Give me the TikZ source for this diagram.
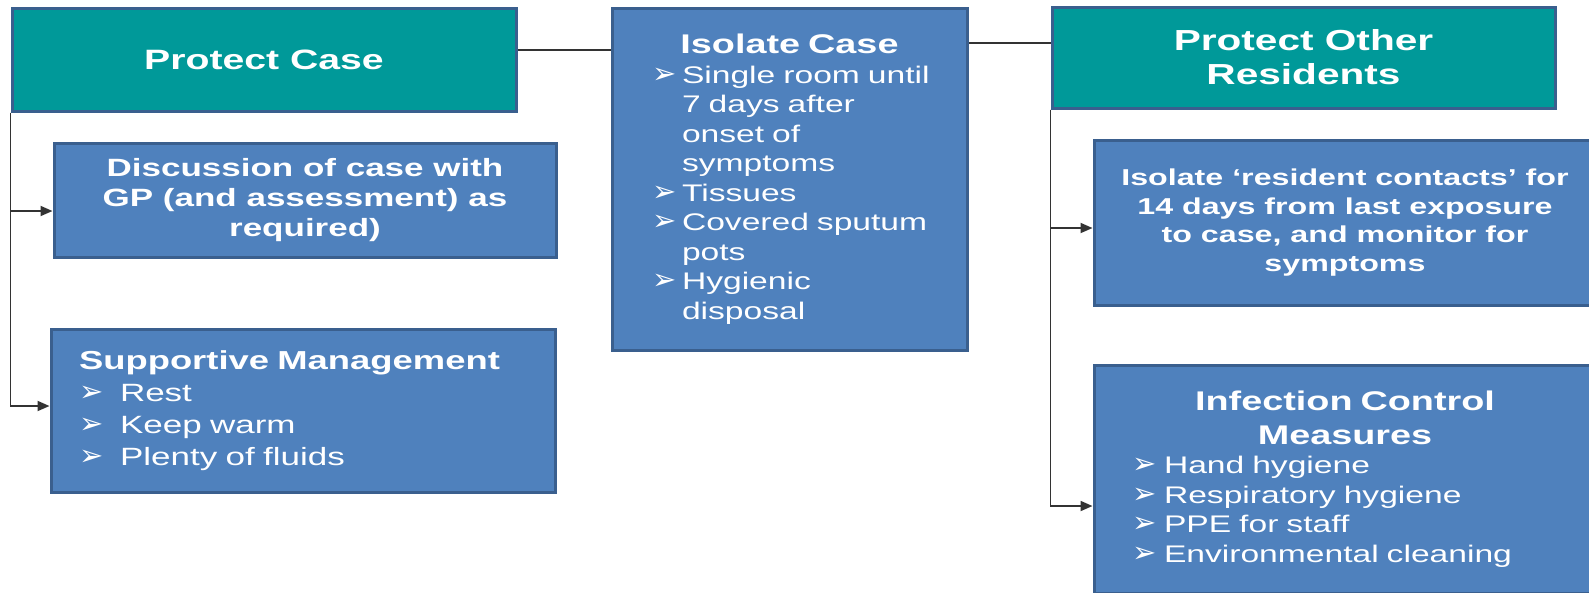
\documentclass[tikz,border=0pt]{standalone}
\usepackage{fontspec}
\setmainfont{Liberation Sans}[FakeStretch=1.4]
\newfontfamily\bulfont{DejaVu Sans}
\usepackage{tikz}
\usetikzlibrary{arrows.meta,positioning,calc}
\definecolor{tealfill}{HTML}{009999}
\definecolor{bluefill}{HTML}{4F81BD}
\definecolor{boxline}{HTML}{3A5F8E}
\definecolor{wireline}{HTML}{333333}
\newlength{\bulw}
\newcommand{\bitem}[1]{\makebox[\bulw][l]{\bulfont\fontsize{29}{29}\selectfont ➢}\mbox{#1}}
\newcommand{\bcont}[1]{\hspace*{\bulw}\mbox{#1}}
\tikzset{
  hbox/.style={draw=boxline, line width=3pt, fill=tealfill, text=white, align=center, inner sep=0pt},
  ibox/.style={hbox, fill=bluefill},
  wire/.style={draw=wireline, line width=1.8pt},
  arr/.style={wire, -{Triangle[length=12pt,width=10pt]}}}

\begin{document}
\begin{tikzpicture}[x=1pt, y=-1pt]
  \useasboundingbox (0,0) rectangle (1589,592);
  % left column
  \node[hbox, minimum width=504pt, minimum height=103pt, font=\fontsize{28}{34}\selectfont\bfseries] (pc) at (264,59.5) {Protect Case};
  \node[ibox, minimum width=502pt, minimum height=114pt, font=\fontsize{25}{29.7}\selectfont\bfseries] (disc) at (305,200) {Discussion of case with\\GP (and assessment) as\\required)};
  \node[ibox, minimum width=504pt, minimum height=163pt, text width=448pt, align=left, font=\fontsize{25}{32}\selectfont] (supp) at (303,410.5) {\setlength{\bulw}{41pt}{\bfseries\fontsize{26}{32}\selectfont Supportive Management}\\ \bitem{Rest}\\ \bitem{Keep warm}\\ \bitem{Plenty of fluids}};
  % middle column
  \node[ibox, minimum width=355pt, minimum height=342pt, text width=275pt, align=left, font=\fontsize{24}{29.5}\selectfont] (iso) at (789.5,179) {\setlength{\bulw}{30pt}{\centering\fontsize{27}{29.5}\selectfont\bfseries Isolate Case\par}
    \bitem{Single room until}\\ \bcont{7 days after}\\ \bcont{onset of}\\ \bcont{symptoms}\\ \bitem{Tissues}\\ \bitem{Covered sputum}\\ \bcont{pots}\\ \bitem{Hygienic}\\ \bcont{disposal}};
  % right column
  \node[hbox, minimum width=503pt, minimum height=101pt, font=\fontsize{29}{34}\selectfont\bfseries] (por) at (1303.5,57.5) {Protect Other\\Residents};
  \node[ibox, minimum width=502pt, minimum height=165pt, font=\fontsize{23}{28.7}\selectfont\bfseries] (cont) at (1345,222.5) {Isolate ‘resident contacts’ for\\14 days from last exposure\\to case, and monitor for\\symptoms};
  \node[ibox, minimum width=502pt, minimum height=228pt, text width=426pt, align=left, font=\fontsize{24}{29.5}\selectfont] (inf) at (1345,479) {\setlength{\bulw}{32pt}{\centering\fontsize{27}{34}\selectfont\bfseries Infection Control\\Measures\par}
    \bitem{Hand hygiene}\\ \bitem{Respiratory hygiene}\\ \bitem{PPE for staff}\\ \bitem{Environmental cleaning}};
  % connectors
  \draw[wire] ([yshift=9.5pt]pc.east) coordinate (pcx) -- (pcx -| iso.west);
  \draw[wire] ([yshift=14.5pt]por.west) coordinate (porx) -- (porx -| iso.east);
  \draw[arr] (pc.south west) |- ([yshift=-11pt]disc.west);
  \draw[arr] (pc.south west) |- ([yshift=4.5pt]supp.west);
  \draw[arr] (por.south west) |- ([yshift=-5.5pt]cont.west);
  \draw[arr] (por.south west) |- ([yshift=-27pt]inf.west);
\end{tikzpicture}
\end{document}
